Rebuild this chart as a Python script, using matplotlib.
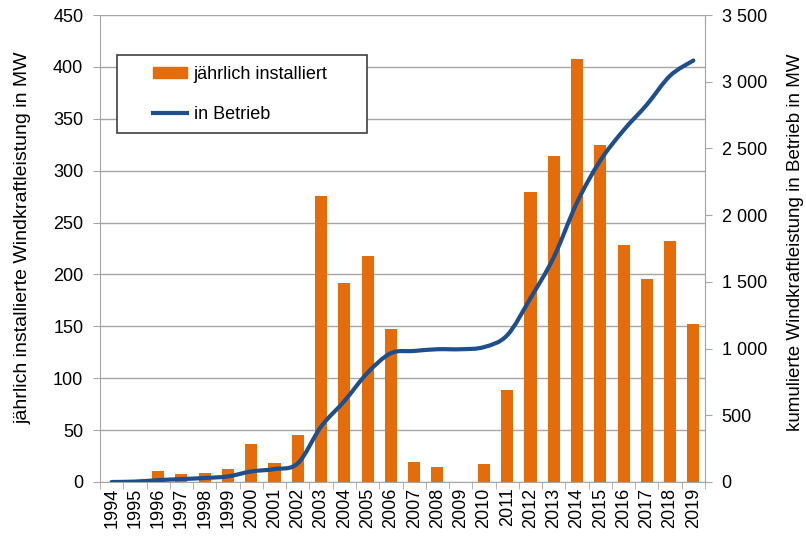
import numpy as np
import matplotlib.pyplot as plt
from matplotlib.path import Path
from matplotlib.patches import PathPatch, Patch, Rectangle
from matplotlib.lines import Line2D
from matplotlib.ticker import FuncFormatter

plt.rcParams['font.family'] = ['Liberation Sans', 'DejaVu Sans']

years = list(range(1994, 2020))
jaehrlich = [0, 0, 11, 8, 9, 13, 37, 18, 45, 276, 192, 218, 147, 19, 14, 0,
             17, 89, 279, 314, 408, 325, 228, 196, 232, 152]
betrieb = [0, 3, 14, 22, 30, 42, 79, 97, 140, 415, 606, 819, 965, 982, 995, 995,
           1011, 1100, 1378, 1684, 2095, 2409, 2636, 2828, 3045, 3159]

orange = '#E46C0A'
blau = '#1F4E8C'
grau = '#A6A6A6'

fig = plt.figure(figsize=(8.06, 5.40), dpi=100)
ax = fig.add_axes([100/806, 1 - 482/540, 605/806, 467/540])
x = np.arange(len(years))

ax.bar(x, jaehrlich, width=0.52, color=orange, zorder=2)
ax.set_ylim(0, 450)
ax.set_yticks(range(0, 451, 50))
ax.set_xlim(-0.5, len(years) - 0.5)
ax.set_xticks(x)
ax.set_xticklabels([str(y) for y in years], rotation=90, fontsize=13)
ax.tick_params(axis='x', length=0, pad=4)
ax.set_xticks(np.arange(-0.5, len(years), 1), minor=True)
ax.tick_params(axis='x', which='minor', length=5, color=grau)
ax.tick_params(axis='y', labelsize=13, length=5, color=grau, pad=7)
ax.grid(axis='y', color=grau, linewidth=1, zorder=0)
ax.set_axisbelow(True)
ax.spines['top'].set_visible(False)
for s in ['left', 'bottom', 'right']:
    ax.spines[s].set_color(grau)
ax.set_ylabel('jährlich installierte Windkraftleistung in MW', fontsize=14)
ax.yaxis.set_label_coords(-0.113, 0.522)

ax2 = ax.twinx()
ax2.set_ylim(0, 3500)
ax2.set_yticks(range(0, 3501, 500))
ax2.yaxis.set_major_formatter(FuncFormatter(lambda v, p: f'{int(v):,}'.replace(',', ' ')))
ax2.tick_params(axis='y', labelsize=13, length=5, color=grau, pad=7)
for s in ['top', 'left', 'bottom']:
    ax2.spines[s].set_visible(False)
ax2.spines['right'].set_color(grau)
ax2.set_ylabel('kumulierte Windkraftleistung in Betrieb in MW', fontsize=13.5)
ax2.yaxis.set_label_coords((787 - 100) / 605, 0.514)

# geglättete Linie (Catmull-Rom als Bezier) wie in Excel
yb = np.array(betrieb, dtype=float)
verts = [(x[0], yb[0])]
codes = [Path.MOVETO]
t = 1 / 6
for i in range(len(x) - 1):
    p0 = (x[max(i - 1, 0)], yb[max(i - 1, 0)])
    p1 = (x[i], yb[i])
    p2 = (x[i + 1], yb[i + 1])
    p3 = (x[min(i + 2, len(x) - 1)], yb[min(i + 2, len(x) - 1)])
    c1 = (p1[0] + (p2[0] - p0[0]) * t, p1[1] + (p2[1] - p0[1]) * t)
    c2 = (p2[0] - (p3[0] - p1[0]) * t, p2[1] - (p3[1] - p1[1]) * t)
    verts += [c1, c2, p2]
    codes += [Path.CURVE4] * 3
ax2.add_patch(PathPatch(Path(verts, codes), facecolor='none', edgecolor=blau,
                        linewidth=3, capstyle='round', joinstyle='round', zorder=3))

# Legende: Rahmen separat, damit er breiter ist als der Inhalt
rahmen = Rectangle((117/806, 1 - 133/540), 250/806, 78/540, transform=fig.transFigure,
                   facecolor='white', edgecolor='#404040', linewidth=1.2, zorder=4)
ax2.add_artist(rahmen)
handles = [Patch(color=orange), Line2D([], [], color=blau, linewidth=3)]
leg = ax2.legend(handles, ['jährlich installiert', 'in Betrieb'], loc='upper left',
                 bbox_to_anchor=((153 - 100)/605, (482 - 66)/467), fontsize=13,
                 frameon=False, borderpad=0, labelspacing=1.27, handlelength=1.9,
                 handleheight=0.5, handletextpad=0.35, borderaxespad=0)
leg.set_zorder(5)

fig.savefig('out.png', dpi=100)
